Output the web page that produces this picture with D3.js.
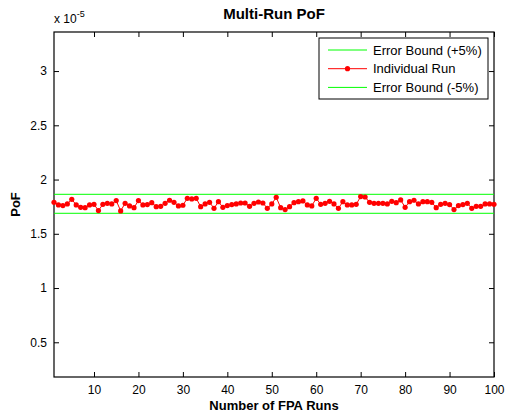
<!DOCTYPE html>
<html>
<head>
<meta charset="utf-8">
<script src="https://cdn.jsdelivr.net/npm/d3@7"></script>
<style>
  body { margin: 0; background: #fff; overflow: hidden; }
  svg { display: block; }
  text { font-family: "Liberation Sans", Arial, sans-serif; }
</style>
</head>
<body>
<div id="plot"></div>
<script>
// values in units of 1e-5
const runs = d3.range(1, 101);
const pof = [
  1.790, 1.766, 1.760, 1.775, 1.818, 1.766, 1.744, 1.741, 1.766, 1.772,
  1.714, 1.772, 1.781, 1.775, 1.806, 1.711, 1.781, 1.757, 1.741, 1.806,
  1.766, 1.769, 1.787, 1.750, 1.753, 1.781, 1.809, 1.790, 1.757, 1.763,
  1.827, 1.821, 1.827, 1.750, 1.775, 1.790, 1.735, 1.796, 1.744, 1.760,
  1.769, 1.775, 1.784, 1.784, 1.753, 1.781, 1.793, 1.784, 1.735, 1.775,
  1.836, 1.741, 1.723, 1.750, 1.787, 1.796, 1.803, 1.766, 1.757, 1.827,
  1.772, 1.781, 1.799, 1.775, 1.735, 1.796, 1.766, 1.766, 1.772, 1.843,
  1.839, 1.790, 1.781, 1.781, 1.781, 1.775, 1.799, 1.787, 1.812, 1.744,
  1.796, 1.809, 1.775, 1.796, 1.796, 1.790, 1.741, 1.772, 1.781, 1.769,
  1.723, 1.760, 1.769, 1.781, 1.735, 1.753, 1.753, 1.775, 1.775, 1.772
];
const upperBound = 1.864;
const lowerBound = 1.689;
const xTicks = [10, 20, 30, 40, 50, 60, 70, 80, 90, 100];
const yTicks = [0.5, 1, 1.5, 2, 2.5, 3];
const legendLabels = ["Error Bound (+5%)", "Individual Run", "Error Bound (-5%)"];

const w = 506;
const h = 414;
const margin = {top: 32, right: 12, bottom: 37, left: 54};
const innerWidth = w - margin.left - margin.right;
const innerHeight = h - margin.top - margin.bottom;

const svg = d3.select("div#plot")
    .append("svg")
    .attr("width", w)
    .attr("height", h);

const xScale = d3.scaleLinear()
    .domain([1, 100])
    .range([0, innerWidth]);

const yScale = d3.scaleLinear()
    .domain([0.18, 3.36])
    .range([innerHeight, 0]);

const g = svg.append("g")
    .attr("transform", `translate(${margin.left}, ${margin.top})`);

// axes with inward ticks on all four sides
const tickLen = 5;
g.append("g")
    .attr("transform", `translate(0, ${innerHeight})`)
    .attr("font-size", 12)
    .call(d3.axisBottom(xScale).tickValues(xTicks).tickSize(-tickLen).tickPadding(8))
    .call(a => a.select(".domain").remove());
g.append("g")
    .call(d3.axisTop(xScale).tickValues(xTicks).tickSize(-tickLen))
    .call(a => a.select(".domain").remove())
    .call(a => a.selectAll("text").remove());
g.append("g")
    .call(d3.axisLeft(yScale).tickValues(yTicks).tickSize(-tickLen).tickPadding(7)
        .tickFormat(d => String(d)))
    .call(a => a.select(".domain").remove());
g.append("g")
    .attr("transform", `translate(${innerWidth}, 0)`)
    .call(d3.axisRight(yScale).tickValues(yTicks).tickSize(-tickLen))
    .call(a => a.select(".domain").remove())
    .call(a => a.selectAll("text").remove());

g.selectAll(".tick text")
    .style("font-size", "12px")
    .style("fill", "#000");
g.selectAll(".tick line").attr("stroke", "#000");

g.append("rect")
    .attr("width", innerWidth)
    .attr("height", innerHeight)
    .attr("fill", "none")
    .attr("stroke", "#000")
    .attr("stroke-width", 1.2);

// bounds
[upperBound, lowerBound].forEach(b => {
  g.append("line")
      .attr("x1", xScale(1))
      .attr("x2", xScale(100))
      .attr("y1", yScale(b))
      .attr("y2", yScale(b))
      .attr("stroke", "#00ff00")
      .attr("stroke-width", 1);
});

// individual runs
const line = d3.line()
    .x((d, i) => xScale(runs[i]))
    .y(d => yScale(d));

g.append("path")
    .datum(pof)
    .attr("d", line)
    .attr("fill", "none")
    .attr("stroke", "#ff0000")
    .attr("stroke-width", 1);

g.selectAll("circle.run")
    .data(pof)
  .enter().append("circle")
    .attr("class", "run")
    .attr("cx", (d, i) => xScale(runs[i]))
    .attr("cy", d => yScale(d))
    .attr("r", 2.6)
    .attr("fill", "#ff0000");

// titles
svg.append("text")
    .attr("x", margin.left + innerWidth / 2)
    .attr("y", 19)
    .attr("text-anchor", "middle")
    .attr("font-size", 15)
    .attr("font-weight", "bold")
    .text("Multi-Run PoF");

svg.append("text")
    .attr("x", margin.left + innerWidth / 2)
    .attr("y", 410)
    .attr("text-anchor", "middle")
    .attr("font-size", 13)
    .attr("font-weight", "bold")
    .text("Number of FPA Runs");

svg.append("text")
    .attr("transform", `translate(20, ${margin.top + innerHeight / 2}) rotate(-90)`)
    .attr("text-anchor", "middle")
    .attr("font-size", 13)
    .attr("font-weight", "bold")
    .text("PoF");

const expo = svg.append("text")
    .attr("x", 54)
    .attr("y", 23)
    .attr("font-size", 12);
expo.append("tspan").text("x 10");
expo.append("tspan").attr("dy", -6).attr("font-size", 9).text("-5");

// legend
const lg = svg.append("g").attr("transform", "translate(319, 38)");
lg.append("rect")
    .attr("width", 169)
    .attr("height", 61)
    .attr("fill", "#fff")
    .attr("stroke", "#000")
    .attr("stroke-width", 1);
const colors = ["#00ff00", "#ff0000", "#00ff00"];
legendLabels.forEach((t, i) => {
  const y = 12 + i * 18.7;
  lg.append("line")
      .attr("x1", 9).attr("x2", 48)
      .attr("y1", y).attr("y2", y)
      .attr("stroke", colors[i]).attr("stroke-width", 1);
  if (i === 1) {
    lg.append("circle").attr("cx", 28.5).attr("cy", y).attr("r", 2.6).attr("fill", "#ff0000");
  }
  lg.append("text")
      .attr("x", 54)
      .attr("y", y + 4.5)
      .attr("font-size", 13)
      .text(t);
});
</script>
</body>
</html>
